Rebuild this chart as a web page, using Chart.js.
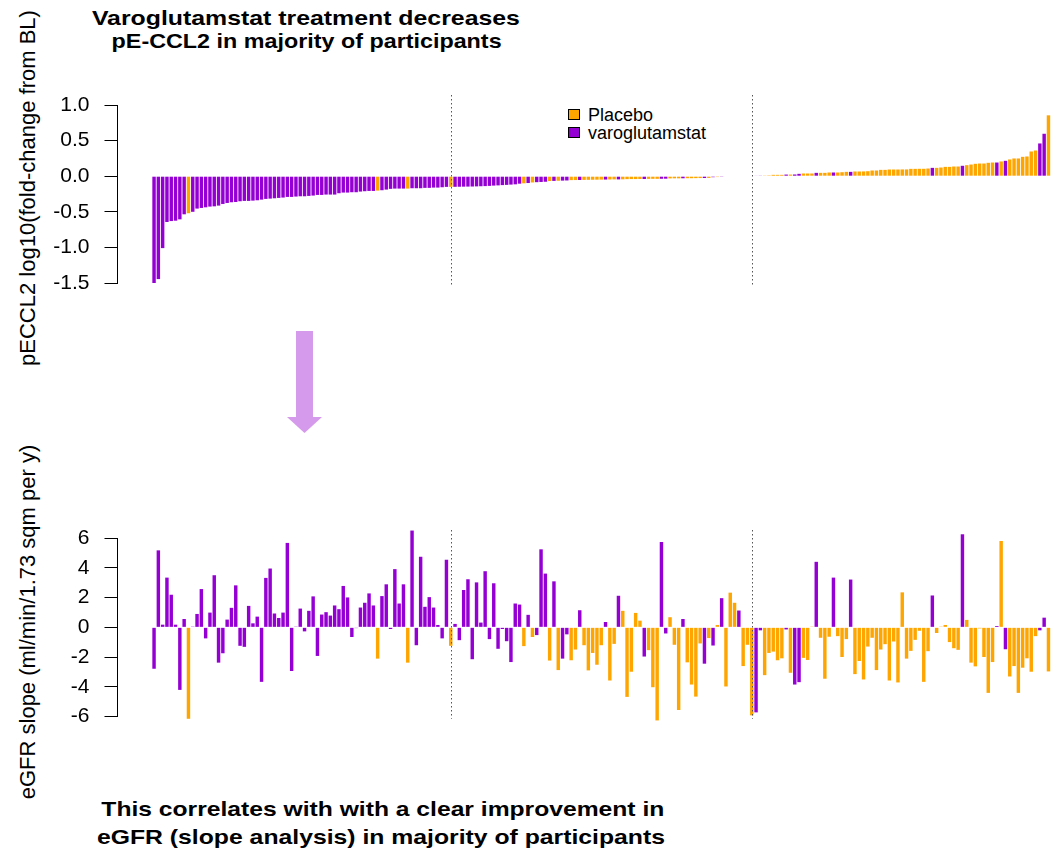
<!DOCTYPE html>
<html>
<head>
<meta charset="utf-8">
<title>pE-CCL2 and eGFR waterfall</title>
<script src="https://cdn.jsdelivr.net/npm/chart.js@4.4.1/dist/chart.umd.min.js"></script>
<style>
  html, body { margin: 0; padding: 0; background: #fff; }
  #page { position: relative; width: 1052px; height: 850px; overflow: hidden;
          font-family: 'Liberation Sans', Arial, sans-serif; color: #000; }
  .abs { position: absolute; }
  .title { font-weight: bold; font-size: 21px; line-height: 21px; white-space: nowrap;
           display: inline-block; transform-origin: 50% 50%; }
  .ylab { font-size: 22px; line-height: 22px; white-space: nowrap;
          transform: translate(-50%, -50%) rotate(-90deg); }
  .legtext { font-size: 18px; line-height: 18px; white-space: nowrap; }
  .swatch { width: 12px; height: 11px; border: 1px solid #000; box-sizing: border-box; }
</style>
</head>
<body>
<div id="page">
  <span class="abs title" data-cx="306" data-w="428" style="top:7px;">Varoglutamstat treatment decreases</span>
  <span class="abs title" data-cx="306.7" data-w="390" style="top:30px;">pE-CCL2 in majority of participants</span>

  <div class="abs ylab" style="left:28px; top:188px;">pECCL2 log10(fold-change from BL)</div>
  <div class="abs ylab" style="left:28px; top:622px;">eGFR slope (ml/min/1.73 sqm per y)</div>

  <div class="abs swatch" style="left:568px; top:109px; background:#FFA500;"></div>
  <div class="abs legtext" style="left:588px; top:106px;">Placebo</div>
  <div class="abs swatch" style="left:568px; top:127px; background:#9400D3;"></div>
  <div class="abs legtext" style="left:588px; top:124px;">varoglutamstat</div>

  <svg class="abs" style="left:0; top:0;" width="1052" height="850">
    <polygon points="296,331 313,331 313,417 322,417 304.5,433 287,417 296,417" fill="#d59aeb"/>
  </svg>

  <canvas id="topChart" class="abs" style="left:0; top:0;" width="1052" height="318"></canvas>
  <canvas id="bottomChart" class="abs" style="left:0; top:440px;" width="1052" height="312"></canvas>

  <span class="abs title" data-cx="382.5" data-w="563" style="top:798px;">This correlates with with a clear improvement in</span>
  <span class="abs title" data-cx="381" data-w="568" style="top:826px;">eGFR (slope analysis) in majority of participants</span>
</div>

<script>
// participants sorted by pE-CCL2 change (left to right)
const pecclChange = [
  -1.50, -1.445, -1.01, -0.643, -0.63, -0.625, -0.606, -0.535, -0.52, -0.50,
  -0.455, -0.446, -0.437, -0.427, -0.423, -0.413, -0.39, -0.376, -0.366, -0.362,
  -0.352, -0.347, -0.347, -0.343, -0.338, -0.329, -0.319, -0.315, -0.31, -0.305,
  -0.30, -0.291, -0.291, -0.286, -0.282, -0.282, -0.277, -0.272, -0.263, -0.263,
  -0.258, -0.258, -0.258, -0.239, -0.23, -0.23, -0.225, -0.225, -0.216, -0.211,
  -0.207, -0.207, -0.202, -0.197, -0.188, -0.178, -0.174, -0.174, -0.174, -0.174,
  -0.169, -0.169, -0.169, -0.164, -0.164, -0.16, -0.16, -0.155, -0.15, -0.15,
  -0.149, -0.148, -0.147, -0.146, -0.145, -0.143, -0.141, -0.139, -0.136, -0.132,
  -0.129, -0.125, -0.122, -0.118, -0.114, -0.105, -0.100, -0.096, -0.088, -0.084,
  -0.081, -0.078, -0.068, -0.066, -0.064, -0.062, -0.060, -0.055, -0.054, -0.053,
  -0.052, -0.051, -0.050, -0.049, -0.048, -0.047, -0.046, -0.045, -0.045, -0.044,
  -0.041, -0.040, -0.040, -0.039, -0.039, -0.038, -0.037, -0.037, -0.036, -0.035,
  -0.031, -0.030, -0.030, -0.029, -0.028, -0.028, -0.027, -0.026, -0.025, -0.024,
  -0.014, -0.012, -0.010, 0, 0, 0, 0, 0, 0, 0,
  0.008, 0.009, 0.010, 0.012, 0.019, 0.019, 0.019, 0.023, 0.023, 0.024,
  0.033, 0.038, 0.038, 0.038, 0.047, 0.047, 0.047, 0.052, 0.052, 0.052,
  0.056, 0.061, 0.061, 0.066, 0.066, 0.067, 0.070, 0.080, 0.080, 0.089,
  0.089, 0.094, 0.094, 0.094, 0.095, 0.095, 0.103, 0.103, 0.104, 0.104,
  0.108, 0.117, 0.117, 0.122, 0.131, 0.131, 0.136, 0.136, 0.146, 0.155,
  0.164, 0.174, 0.178, 0.178, 0.188, 0.192, 0.192, 0.207, 0.216, 0.235,
  0.249, 0.249, 0.272, 0.277, 0.347, 0.361, 0.460, 0.596, 0.855
];

// eGFR slope, same participant order
const egfrSlope = [
  -2.78, 5.17, 0.18, 3.34, 2.19, 0.18, -4.20, 0.56, -6.14, 0.05,
  0.90, 2.57, -0.74, 0.99, 3.50, -2.37, -1.74, 0.52, 1.31, 2.82,
  -1.24, -1.31, 1.44, 0.27, 0.72, -3.66, 3.32, 3.95, 0.93, 0.63,
  0.99, 5.67, -2.93, 0.05, 1.26, -0.27, 1.11, 2.08, -1.92, 0.86,
  1.02, 0.79, 1.47, 1.22, 2.78, 2.01, -0.65, -0.05, 1.33, 1.65,
  2.28, 1.47, -2.10, 2.10, 2.89, -0.11, 3.91, 1.60, 2.89, -2.37,
  6.50, -1.20, 4.74, 1.38, 2.03, 1.33, 0.16, -0.74, 4.54, -1.24,
  0.23, -0.86, 2.51, 3.23, -2.14, 3.02, 0.32, 3.77, -0.79, 2.96,
  -1.44, -0.11, -0.93, -2.33, 1.60, 1.53, -1.26, 0.84, -0.65, -0.52,
  5.24, 3.61, -2.23, 3.09, -2.87, -2.10, -0.47, -2.21, -1.49, 1.15,
  -1.20, -2.89, -1.72, -2.51, -1.20, 0.36, -3.57, -1.11, 2.12, 1.11,
  -4.67, -2.98, 0.97, 0.45, -1.96, -1.53, -4.02, -6.25, 5.73, -0.41,
  0.68, -1.17, -5.55, 0.56, -2.35, -3.84, -4.65, -1.08, -2.44, -0.72,
  -1.22, 0.16, 1.96, -3.97, 2.33, 1.65, 1.13, -2.60, -1.17, -5.91,
  -5.71, -0.20, -3.21, -1.72, -1.63, -2.21, -2.08, -0.14, -3.05, -3.84,
  -3.68, -2.05, -2.19, 0.05, 4.40, -0.70, -3.45, -0.63, 3.34, -0.59,
  -1.99, -0.79, 3.21, -3.14, -2.26, -3.50, -1.29, -0.70, -2.87, -1.49,
  -1.13, -3.57, -0.95, -3.70, 2.35, -2.10, -1.58, -0.84, -0.23, -3.66,
  -1.60, 2.14, -0.38, 0.05, 0.16, -0.99, -1.40, -1.51, 6.25, 0.50,
  -2.37, -2.62, -0.07, -1.99, -4.40, -2.33, 0.09, 5.80, -1.47, -3.30,
  -2.60, -4.40, -2.71, -2.08, -2.98, -0.59, -0.20, 0.65, -2.96
];

// positions (1-based) of placebo participants, the rest got varoglutamstat
const placeboBars = [
  9, 53, 60, 70, 87, 89, 93, 95, 98, 99, 101, 102, 103, 104, 105, 107, 108,
  110, 111, 112, 113, 114, 116, 117, 118, 121, 122, 123, 125, 126, 127, 128,
  130, 132, 134, 135, 136, 138, 139, 140, 143, 144, 145, 146, 147, 149, 152,
  153, 154, 156, 157, 158, 160, 161, 162, 164, 165, 166, 167, 168, 169, 170,
  171, 172, 173, 174, 175, 176, 177, 178, 179, 180, 181, 183, 184, 185, 186,
  187, 188, 190, 191, 192, 193, 194, 195, 196, 198, 200, 201, 202, 203, 204,
  205, 206, 209
];

const tertileBars = [70, 140];
const pecclTicks = [-1.5, -1.0, -0.5, 0.0, 0.5, 1.0];
const egfrTicks = [-6, -4, -2, 0, 2, 4, 6];

const PLACEBO = '#FFA500';
const VARO = '#9400D3';
const LEAD = 8; // empty slots between the axis line and the first bar

// stretch the bold captions to the width they have in the figure
document.querySelectorAll('.title').forEach(el => {
  const w = el.getBoundingClientRect().width;
  el.style.left = (+el.dataset.cx - w / 2) + 'px';
  el.style.transform = 'scaleX(' + (+el.dataset.w / w) + ')';
});

const lead = new Array(LEAD).fill(null);
const labels = lead.map(() => '').concat(pecclChange.map((v, i) => String(i + 1)));
const barColors = pecclChange.map((v, i) => placeboBars.includes(i + 1) ? PLACEBO : VARO);

const tertileLines = {
  id: 'tertileLines',
  afterDatasetsDraw(chart, args, opts) {
    const { ctx, chartArea, scales } = chart;
    ctx.save();
    ctx.strokeStyle = '#555';
    ctx.lineWidth = 1;
    ctx.setLineDash([1.5, 2.5]);
    tertileBars.forEach(n => {
      const x = Math.round(scales.x.getPixelForValue(LEAD + n - 1)) + 0.5;
      ctx.beginPath();
      ctx.moveTo(x, chartArea.top - opts.above);
      ctx.lineTo(x, chartArea.bottom + opts.below);
      ctx.stroke();
    });
    ctx.restore();
  }
};

function waterfall(canvasId, values, yTicks, decimals, padding, lines) {
  return new Chart(document.getElementById(canvasId), {
    type: 'bar',
    data: {
      labels: labels,
      datasets: [{
        data: lead.concat(values),
        backgroundColor: lead.concat(barColors),
        borderWidth: 0,
        barPercentage: 0.8,
        categoryPercentage: 1,
        clip: false
      }]
    },
    options: {
      responsive: false,
      animation: false,
      layout: { padding: padding },
      plugins: {
        legend: { display: false },
        tooltip: { enabled: false },
        tertileLines: lines
      },
      scales: {
        x: { display: false },
        y: {
          min: yTicks[0],
          max: yTicks[yTicks.length - 1],
          afterFit: s => { s.width = 117.5; },
          afterBuildTicks: s => { s.ticks = yTicks.map(v => ({ value: v })); },
          ticks: {
            callback: v => Number(v).toFixed(decimals),
            color: '#000',
            font: { family: 'Liberation Sans', size: 21 },
            padding: 15
          },
          grid: { drawOnChartArea: false, drawTicks: true, tickLength: 13, color: '#000' },
          border: { display: true, color: '#000' }
        }
      }
    },
    plugins: [tertileLines]
  });
}

// tick-label overhang is ~28px, so bottom padding must stay above that
waterfall('topChart', pecclChange, pecclTicks, 1,
  { top: 105, bottom: 35, left: 0, right: 1.4 }, { above: 10, below: 2 });
waterfall('bottomChart', egfrSlope, egfrTicks, 0,
  { top: 98, bottom: 35.3, left: 0, right: 1.4 }, { above: 8, below: 2 });
</script>
</body>
</html>
